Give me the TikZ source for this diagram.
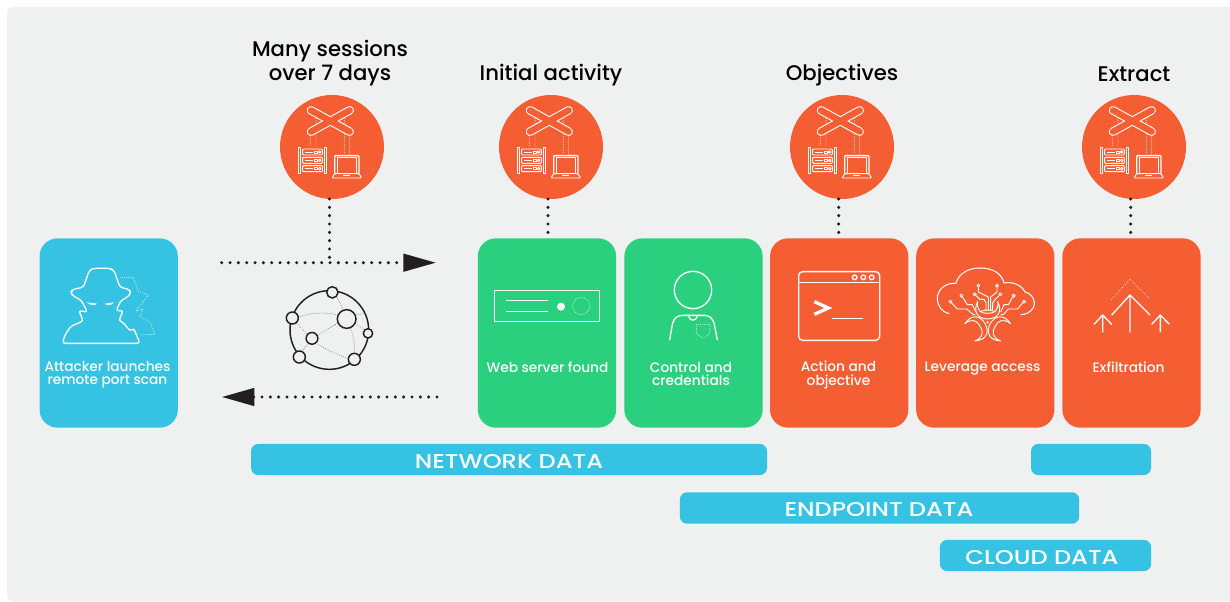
\documentclass[tikz,border=0pt]{standalone}
\usepackage{fontspec}
\setmainfont{Poppins}
\newfontfamily\medf[UprightFont=* Medium]{Poppins}
\newfontfamily\barf[UprightFont=* Medium,FakeStretch=1.21]{Poppins}
\usetikzlibrary{arrows.meta,calc}
\definecolor{bgc}{HTML}{EFF1F1}
\definecolor{bluec}{HTML}{35C2E3}
\definecolor{greenc}{HTML}{2BD07F}
\definecolor{orangec}{HTML}{F55D33}
\definecolor{inkc}{HTML}{231F20}
\tikzset{
 card/.style={rounded corners=13.5pt,minimum width=103.7pt,minimum height=142pt,inner sep=0pt,draw=none},
 cardtxt/.style={text=white,font=\medf\fontsize{10.3}{9.9}\selectfont,align=center,inner sep=0pt,anchor=center},
 bar/.style={fill=bluec,rounded corners=5.5pt,inner sep=0pt,draw=none},
 bartxt/.style={text=white,font=\barf\fontsize{15}{16}\selectfont,inner sep=0pt},
 ttl/.style={text=black,font=\medf\fontsize{15.9}{17.4}\selectfont,align=center,inner sep=0pt},
 ocirc/.style={circle,fill=orangec,minimum size=78pt,inner sep=0pt,draw=none},
 dotline/.style={draw=inkc,line width=2.6pt,line cap=round,dash pattern=on 0pt off 6.25pt},
 wl/.style={draw=white,line width=1pt,line join=round},
 wt/.style={draw=white,line width=0.7pt,line join=round},
 wd/.style={draw=white,line width=0.7pt,line cap=round,dash pattern=on 0pt off 1.5pt},
 nlink/.style={draw=inkc!75,line width=0.6pt,line cap=round,dash pattern=on 0pt off 1.5pt},
 nnode/.style={circle,draw=inkc,fill=bgc,line width=1.1pt,inner sep=0pt},
 zm/.style={scale=1/3},
}
\newcommand{\hub}[1]{%
 \begin{scope}[shift={(#1)},shift={(-185/3,-170/3)},scale=1/3]
  \draw[wd] (120,135)--(120,170) (137,125)--(137,170) (222,85)--(222,192) (238,125)--(238,192) (137,85)--(137,100);
  \draw[white,line width=6.4pt,line cap=round] (122,60)--(238,124) (238,60)--(122,124);
  \draw[orangec,line width=4.8pt,line cap=round] (122,60)--(238,124) (238,60)--(122,124);
  \foreach \y in {176,201,226}{
   \draw[wt,fill=orangec,rounded corners=0.6pt] (97,\y) rectangle (156,\y+18);
   \draw[wt] (103,\y+9)--(128,\y+9);
   \draw[wt] (133,\y+6) rectangle (141,\y+12);
   \draw[wt] (148,\y+9) circle (4);
  }
  \draw[wt] (84,170) rectangle (91,250) (162,170) rectangle (169,250);
  \draw[wl,rounded corners=0.6pt] (193,250)--(193,196)--(266,196)--(266,250);
  \draw[wt] (200,202) rectangle (259,250);
  \draw[wt,rounded corners=0.8pt] (193,250)--(185,263)--(274,263)--(266,250)--cycle;
  \draw[wt] (218,256)--(240,256);
 \end{scope}}
\begin{document}
\begin{tikzpicture}[x=0.75pt,y=-0.75pt]
\useasboundingbox (0,0) rectangle (1230,602);
\fill[white] (0,0) rectangle (1230,602);
\fill[bgc,rounded corners=4pt] (7,7) rectangle (1240,601);
% named points
\coordinate (rtail) at (221.7,262.7);
\coordinate (rhead) at (436,262.7);
\coordinate (ltail) at (437,397);
\coordinate (lhead) at (221.7,397);
\coordinate (j1) at (329.5,262.7);
% orange hubs and dotted drops
\node[ocirc] (c1) at (332,147) {};
\node[ocirc] (c2) at (551,147) {};
\node[ocirc] (c3) at (842,147) {};
\node[ocirc] (c4) at (1134,147) {};
% cards
\node[card,fill=bluec]  (k0) at (108.7,333) {};
\node[card,fill=greenc] (k1) at (547,333) {};
\node[card,fill=greenc] (k2) at (693.5,333) {};
\node[card,fill=orangec](k3) at (839.2,333) {};
\node[card,fill=orangec](k4) at (985.3,333) {};
\node[card,fill=orangec](k5) at (1131.5,333) {};
\coordinate (d1) at (329.5,199);
\coordinate (d2) at (548,199);
\coordinate (d3) at (838.7,199);
\coordinate (d4) at (1130.7,199);
\draw[dotline] (d1) -- (j1);
\draw[dotline] (d2) -- (d2 |- k1.north);
\draw[dotline] (d3) -- (d3 |- k3.north);
\draw[dotline] (d4) -- (d4 |- k5.north);
\hub{332,147}\hub{551,147}\hub{842,147}\hub{1134,147}
% titles
\node[ttl] (t1) at (330,63) {Many sessions\\over 7 days};
\node[ttl] (t2) at (551,75) {Initial activity};
\node[ttl] (t3) at (842,75) {Objectives};
\node[ttl] (t4) at (1134,74.5) {Extract};
% dotted arrows
\draw[dotline,-{Triangle[length=24.5pt,width=13pt,fill=inkc]}] (rtail) -- (rhead);
\draw[dotline,-{Triangle[length=24.5pt,width=13pt,fill=inkc]}] (ltail) -- (lhead);
% card labels
\node[cardtxt] (l0) at (107.5,375) {Attacker launches\\remote port scan};
\node[cardtxt] (l1) at (547.5,367) {Web server found};
\node[cardtxt] (l2) at (691,374) {Control and\\credentials};
\node[cardtxt] (l3) at (838.5,375) {Action and\\objective};
\node[cardtxt] (l4) at (982.5,369) {Leverage access};
\node[cardtxt] (l5) at (1128.5,367) {Exfiltration};
% bars
\node[bar,minimum width=387pt,minimum height=23.4pt] (b1) at (509,459.5) {};
\node[bar,minimum width=90pt,minimum height=23.4pt] (b2) at (1091,459.5) {};
\node[bar,minimum width=299.5pt,minimum height=23.6pt] (b3) at (879.5,508) {};
\node[bar,minimum width=158.5pt,minimum height=23.4pt] (b4) at (1045.5,555.5) {};
\node[bartxt] at (509,461.5) {NETWORK DATA};
\node[bartxt] at (879,510) {ENDPOINT DATA};
\node[bartxt] at (1042,557.5) {CLOUD DATA};
% network icon
\begin{scope}[shift={(210,240)},zm]
 \draw[inkc,line width=1.1pt] (358,270) circle (118);
 \draw[nlink] (265,232) .. controls (300,218) and (345,215) .. (385,225);
 \draw[nlink] (380,170)--(400,210);
 \draw[nlink] (325,285)--(385,248);
 \draw[nlink] (260,250)--(292,282);
 \draw[nlink] (295,310)--(275,335);
 \draw[nlink] (325,313) .. controls (350,330) and (385,345) .. (415,355);
 \draw[nlink] (422,265) .. controls (432,295) and (435,320) .. (434,342);
 \draw[nlink] (435,225)--(468,220);
 \draw[nlink] (436,252)--(463,268);
 \node[nnode,minimum size=8.5pt] (n1) at (367,157) {};
 \node[nnode,minimum size=9pt] (n2) at (247,234) {};
 \node[nnode,minimum size=9pt] (n3) at (268,351) {};
 \node[nnode,minimum size=9pt] (n4) at (433,358) {};
 \node[nnode,minimum size=7pt] (n5) at (474,280) {};
 \node[nnode,minimum size=14pt] (n6) at (410,237) {};
 \node[nnode,minimum size=8.8pt] (n7) at (306,295) {};
\end{scope}
% hacker
\begin{scope}[shift={(30,235)},zm]
 \draw[wl,rounded corners=2.2pt] (160,157)--(178,106)--(190,100)--(240,100)--(252,106)--(270,157)--(298,163)--(303,175)--(290,188)--(272,197)--(258,228)--(280,226)--(266,258)
   to[out=-15,in=-125] (310,278) -- (330,325)--(97,325)--(105,300)--(122,274)--(160,258)--(146,226)--(173,232)--(153,195)--(128,182)--(122,172)--(128,163)--cycle;
 \fill[white] (170,202) .. controls (185,204) and (195,205) .. (201,206) .. controls (195,213) and (180,212) .. (170,202)--cycle;
 \fill[white] (252,202) .. controls (240,204) and (230,205) .. (224,206) .. controls (230,213) and (245,212) .. (252,202)--cycle;
 \draw[wd] (272,127)--(310,127)--(325,170)--(355,180)--(318,228)--(338,222)--(330,245)--(360,262)--(375,298)--(330,300);
\end{scope}
% web server
\begin{scope}[shift={(475,235)},zm]
 \draw[wl] (59,166) rectangle (374,260);
 \draw[wl] (93,197)--(219,197) (93,229)--(219,229);
 \fill[white] (258,215) circle (12);
 \draw[wd] (319,213) circle (26);
 % person
 \draw[wl] (654,165) circle (56);
 \draw[wl] (584,315)--(592,268) .. controls (596,250) and (606,242) .. (622,241)--(688,241) .. controls (704,242) and (714,250) .. (718,268)--(727,315);
 \draw[wl] (640,242) .. controls (643,260) and (664,260) .. (668,242);
 \draw[wd] (664,268)--(705,268)--(705,292) .. controls (700,302) and (692,308) .. (685,310) .. controls (677,308) and (669,302) .. (664,292)--cycle;
\end{scope}
% terminal
\begin{scope}[shift={(765,235)},zm]
 \draw[wl,rounded corners=3pt] (101,110) rectangle (344,316);
 \draw[wl] (101,143)--(344,143);
 \draw[wl] (269,127) circle (7) (295,127) circle (7) (320,127) circle (7);
 \draw[white,line width=2.5pt,line join=miter] (148,200)--(190,219)--(148,238);
 \draw[wl] (200,251)--(294,251);
\end{scope}
% tree
\begin{scope}[shift={(930,262)},zm]
 \draw[wl,line width=0.8pt] (58,155) .. controls (30,150) and (18,120) .. (23,100) .. controls (28,78) and (50,62) .. (78,64)
   .. controls (85,35) and (115,18) .. (150,18) .. controls (190,18) and (215,35) .. (222,63)
   .. controls (250,58) and (275,70) .. (285,90) .. controls (310,95) and (320,125) .. (308,140) .. controls (300,152) and (285,158) .. (272,158);
 \foreach \x/\y in {61/119,94/101,134/97,145/71,201/71,211/97,251/101,282/119}{\draw[wt] (\x,\y) circle (4.5);}
 \draw[wt] (64,122)--(82,141)--(110,141)--(130,158)--(136,158);
 \draw[wt] (97,105)--(112,128)--(127,128)--(137,150);
 \draw[wt] (138,101)--(150,112)--(162,112)--(168,122)--(168,146);
 \draw[wt] (145,76)--(145,90)--(175,105)--(175,146);
 \draw[wt] (201,76)--(201,90)--(182,105)--(182,146);
 \draw[wt] (207,101)--(196,112)--(188,122)--(188,146);
 \draw[wt] (248,105)--(235,128)--(222,128)--(212,150);
 \draw[wt] (279,122)--(262,141)--(235,141)--(220,158)--(212,158);
 % biohazard
 \foreach \a in {0,120,240}{
  \begin{scope}[rotate around={\a:(173,180)}]
   \draw[wt,fill=orangec] (143,118) .. controls (128,150) and (143,170) .. (173,171) .. controls (203,170) and (218,150) .. (203,118) .. controls (207,145) and (193,155) .. (173,154) .. controls (153,155) and (139,145) .. (143,118)--cycle;
  \end{scope}}
 \fill[white] (173,181) circle (4);
 \draw[wt] (150,150) .. controls (160,142) and (186,142) .. (196,150);
\end{scope}
% exfiltration
\begin{scope}[shift={(1055,235)},zm]
 \draw[wd] (170,193)--(225,132)--(285,193);
 \draw[wl] (170,240)--(225,180)--(285,240) (225,180)--(225,292);
 \draw[wl] (117,268)--(143,240)--(170,268) (143,240)--(143,292);
 \draw[wl] (290,268)--(316,240)--(343,268) (316,240)--(316,292);
\end{scope}
\end{tikzpicture}
\end{document}
